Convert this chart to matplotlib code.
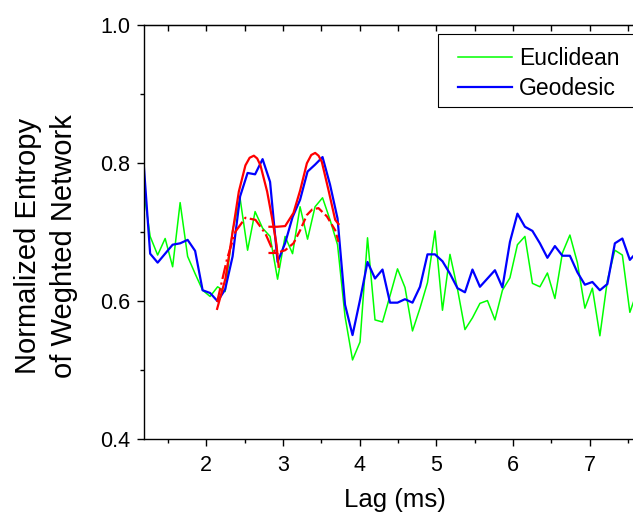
import numpy as np
import matplotlib
matplotlib.use("Agg")
import matplotlib.pyplot as plt
from matplotlib.patches import Rectangle
from matplotlib.ticker import MultipleLocator, FormatStrFormatter

plt.rcParams['font.family'] = ['Liberation Sans', 'DejaVu Sans']

# lag grid (ms), regular sampling
lag = np.arange(12, 79) * 0.0977

euclidean = [0.772, 0.694, 0.667, 0.691, 0.650, 0.743, 0.665, 0.640, 0.616, 0.607,
             0.621, 0.614, 0.703, 0.749, 0.674, 0.730, 0.706, 0.694, 0.632, 0.694,
             0.669, 0.737, 0.690, 0.737, 0.750, 0.718, 0.682, 0.578, 0.515, 0.541,
             0.692, 0.573, 0.570, 0.608, 0.647, 0.620, 0.557, 0.590, 0.627, 0.702,
             0.587, 0.668, 0.618, 0.559, 0.576, 0.597, 0.601, 0.573, 0.616, 0.634,
             0.682, 0.694, 0.626, 0.621, 0.641, 0.604, 0.670, 0.696, 0.656, 0.590,
             0.619, 0.550, 0.630, 0.674, 0.667, 0.584, 0.615]

geodesic = [0.820, 0.669, 0.656, 0.669, 0.682, 0.684, 0.689, 0.673, 0.616, 0.612,
            0.600, 0.617, 0.665, 0.752, 0.786, 0.784, 0.806, 0.773, 0.657, 0.684,
            0.722, 0.747, 0.788, 0.798, 0.809, 0.769, 0.720, 0.595, 0.551, 0.602,
            0.657, 0.633, 0.646, 0.598, 0.598, 0.603, 0.598, 0.621, 0.668, 0.668,
            0.658, 0.640, 0.619, 0.613, 0.646, 0.621, 0.633, 0.645, 0.620, 0.686,
            0.727, 0.708, 0.702, 0.684, 0.663, 0.680, 0.666, 0.666, 0.642, 0.624,
            0.628, 0.616, 0.625, 0.684, 0.691, 0.660, 0.672]

# red fitted peaks
fit1_x = [2.143, 2.252, 2.339, 2.426, 2.512, 2.567, 2.622, 2.665, 2.708, 2.795, 2.860, 2.917, 2.945]
fit1_y = [0.589, 0.633, 0.696, 0.759, 0.797, 0.808, 0.811, 0.807, 0.797, 0.759, 0.720, 0.682, 0.650]
fit2_x = [2.825, 2.926, 3.030, 3.138, 3.226, 3.313, 3.370, 3.421, 3.465, 3.508, 3.595, 3.682, 3.725]
fit2_y = [0.708, 0.708, 0.709, 0.728, 0.761, 0.800, 0.812, 0.815, 0.811, 0.802, 0.761, 0.718, 0.712]
dash1_x = [2.143, 2.274, 2.382, 2.512, 2.643, 2.773, 2.860, 2.939]
dash1_y = [0.599, 0.662, 0.701, 0.721, 0.718, 0.698, 0.676, 0.668]
dash2_x = [2.812, 2.913, 3.030, 3.138, 3.226, 3.313, 3.382, 3.464, 3.574, 3.682, 3.725]
dash2_y = [0.670, 0.670, 0.674, 0.684, 0.703, 0.725, 0.733, 0.735, 0.723, 0.703, 0.686]

W, H = 633, 519
fig = plt.figure(figsize=(W / 100, H / 100), dpi=100)
ax = fig.add_axes([0.2275, 0.1536, 0.789, 0.7977])

ax.plot(lag, euclidean, color='#00ff00', lw=1.1, label='Euclidean')
ax.plot(lag, geodesic, color='#0000ff', lw=1.6, label='Geodesic')
ax.plot(fit1_x, fit1_y, color='#ff0000', lw=1.6)
ax.plot(fit2_x, fit2_y, color='#ff0000', lw=1.6)
ax.plot(dash1_x, dash1_y, color='#ff0000', lw=1.6, linestyle='-.')
ax.plot(dash2_x, dash2_y, color='#ff0000', lw=1.6, linestyle='--')

ax.set_xlim(1.19, 7.7)
ax.set_ylim(0.4, 1.0)
ax.xaxis.set_major_locator(MultipleLocator(1))
ax.xaxis.set_minor_locator(MultipleLocator(0.5))
ax.yaxis.set_major_locator(MultipleLocator(0.2))
ax.yaxis.set_minor_locator(MultipleLocator(0.1))
ax.yaxis.set_major_formatter(FormatStrFormatter('%.1f'))

for s in ax.spines.values():
    s.set_linewidth(1.0)
ax.tick_params(which='major', length=5, width=1.0, labelsize=15.5, pad=5)
ax.tick_params(which='minor', length=3, width=1.0)
ax.tick_params(axis='x', which='major', pad=6)

top = ax.secondary_xaxis('top')
top.xaxis.set_major_locator(MultipleLocator(1))
top.xaxis.set_minor_locator(MultipleLocator(0.5))
top.tick_params(which='both', direction='in', labeltop=False, length=4, width=1.0)

fig.text(395 / W, 1 - 500 / H, 'Lag (ms)', fontsize=18.5, ha='center', va='center')
fig.text(46 / W, 1 - 246 / H, 'Normalized Entropy\nof Weghted Network', fontsize=21,
         rotation=90, ha='center', va='center', multialignment='center', linespacing=1.4)

# legend: frame drawn separately so the padding matches the original box
fig.patches.append(Rectangle((438 / W, 1 - 107 / H), 210 / W, 73 / H,
                             transform=fig.transFigure, fill=False,
                             edgecolor='black', lw=0.8, zorder=5))
leg = ax.legend(loc='upper left', bbox_to_anchor=(458 / W, 1 - 47 / H),
                bbox_transform=fig.transFigure, borderaxespad=0, borderpad=0,
                fontsize=16.5, frameon=False, handlelength=2.35, handletextpad=0.3,
                labelspacing=0.3)

fig.savefig('out.png', dpi=100)
